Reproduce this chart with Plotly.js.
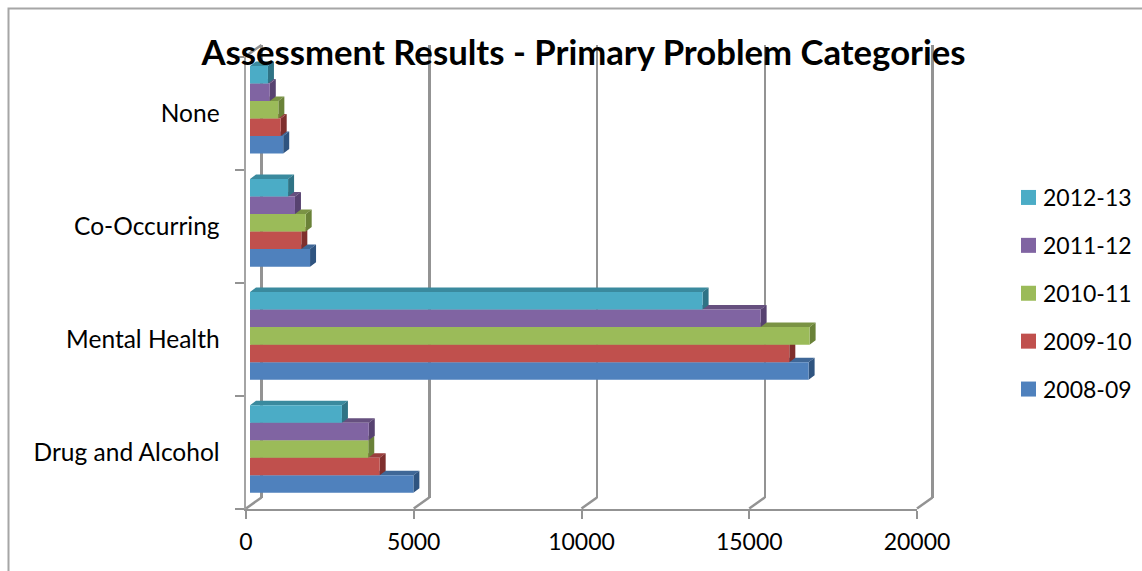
<!DOCTYPE html>
<html>
<head>
<meta charset="utf-8">
<script src="https://cdn.plot.ly/plotly-3.0.1.min.js"></script>
<style>html,body{margin:0;padding:0;background:#fff}#chart{width:1142px;height:571px}</style>
</head>
<body>
<div id="chart"></div>
<script>
var categories = ['Drug and Alcohol', 'Mental Health', 'Co-Occurring', 'None'];
var seriesNames = ['2008-09', '2009-10', '2010-11', '2011-12', '2012-13'];
var v0809 = [4870, 16650, 1790, 990];
var v0910 = [3865, 16075, 1530, 915];
var v1011 = [3525, 16680, 1660, 845];
var v1112 = [3540, 15220, 1340, 590];
var v1213 = [2740, 13490, 1135, 535];
var seriesValues = [v0809, v0910, v1011, v1112, v1213];
var frontColors = ['#4f81bd', '#c0504d', '#9bbb59', '#8064a2', '#4bacc6'];
var topColors = ['#3f6797', '#9a3f3d', '#7a9344', '#66507f', '#3a8a9e'];
var sideColors = ['#2f5480', '#7f2f2d', '#6a8238', '#574270', '#2f7385'];
var xTicks = [0, 5000, 10000, 15000, 20000];
var titleText = 'Assessment Results - Primary Problem Categories';

var W = 1142, H = 571;
var GRAY = '#939393';
var FONT = 'Lato, "Open Sans", sans-serif';
function xDom(a, b) { return [a / W, b / W]; }
function yDom(top, bottom) { return [1 - bottom / H, 1 - top / H]; }

var pxPerUnit = 671 / 20000;
var wallPxPerCat = (497.5 - 45) / 4;
var barPxPerCat = (505.5 - 53.2) / 4;
var barDx = 6 / pxPerUnit, barDy = 4.5 / barPxPerCat;
var wallDx = 15.5 / pxPerUnit, wallDy = 11 / wallPxPerCat;
var barSlot = 0.155;
var wallPad = 4 / pxPerUnit;

var traces = [];

// Keeps the back wall axes alive
traces.push({
  type: 'scatter', mode: 'none', x: xTicks, y: xTicks.map(function () { return 0; }),
  xaxis: 'x', yaxis: 'y', showlegend: false, hoverinfo: 'skip'
});

// Keeps the front frame axes (ticks and category labels) alive
traces.push({
  type: 'scatter', mode: 'none', x: categories.map(function () { return 0; }), y: categories,
  xaxis: 'x2', yaxis: 'y2', showlegend: false, hoverinfo: 'skip'
});

// Depth faces behind the bars
seriesValues.forEach(function (vals, j) {
  var tx = [], ty = [], sx = [], sy = [];
  vals.forEach(function (v, c) {
    var y0 = c - 2.5 * barSlot + j * barSlot, y1 = y0 + barSlot;
    tx.push(0, barDx, v + barDx, v, null);
    ty.push(y1, y1 + barDy, y1 + barDy, y1, null);
    sx.push(v, v + barDx, v + barDx, v, null);
    sy.push(y0, y0 + barDy, y1 + barDy, y1, null);
  });
  traces.push({
    type: 'scatter', mode: 'lines', x: tx, y: ty, xaxis: 'x3', yaxis: 'y3', fill: 'toself',
    fillcolor: topColors[j], line: { width: 0 }, showlegend: false, hoverinfo: 'skip'
  });
  traces.push({
    type: 'scatter', mode: 'lines', x: sx, y: sy, xaxis: 'x3', yaxis: 'y3', fill: 'toself',
    fillcolor: sideColors[j], line: { width: 0 }, showlegend: false, hoverinfo: 'skip'
  });
});

// Front faces of the bars
seriesValues.forEach(function (vals, j) {
  traces.push({
    type: 'bar', orientation: 'h', x: vals, y: categories, name: seriesNames[j],
    xaxis: 'x4', yaxis: 'y4', marker: { color: frontColors[j], line: { width: 0 } },
    showlegend: false
  });
});

// Diagonal floor and wall edges
var edgeX = [], edgeY = [];
xTicks.forEach(function (t) {
  edgeX.push(t - wallDx, t, null);
  edgeY.push(-wallDy, 0, null);
});
edgeX.push(-wallDx, 0, null);
edgeY.push(4 - wallDy, 4, null);
traces.push({
  type: 'scatter', mode: 'lines', x: edgeX, y: edgeY, xaxis: 'x5', yaxis: 'y5',
  line: { color: GRAY, width: 2.5 }, showlegend: false, hoverinfo: 'skip'
});

// Legend swatches, newest season first
seriesNames.slice().reverse().forEach(function (name) {
  var i = seriesNames.indexOf(name);
  traces.push({
    type: 'scatter', mode: 'markers', x: [null], y: [null], xaxis: 'x5', yaxis: 'y5',
    name: name, legendgroup: name,
    marker: { symbol: 'square', size: 15, color: frontColors[i] }, hoverinfo: 'skip'
  });
});

var hidden = { showgrid: false, zeroline: false, showline: false, showticklabels: false, ticks: '' };
function ax(extra) { return Object.assign({}, hidden, extra); }

var layout = {
  width: W, height: H,
  margin: { l: 0, r: 0, t: 0, b: 0, pad: 0, autoexpand: false },
  paper_bgcolor: '#fff', plot_bgcolor: 'rgba(0,0,0,0)',
  font: { family: FONT, color: '#000' },
  title: {
    text: '<b>' + titleText + '</b>',
    font: { family: FONT, size: 34.7, color: '#000' },
    x: 583.5 / W, xanchor: 'center', y: 1 - 53 / H, yanchor: 'middle', xref: 'paper', yref: 'paper'
  },
  barmode: 'group', bargap: 0.225, bargroupgap: 0,
  // back wall with gridlines (range padded so the end gridlines are drawn)
  xaxis: ax({
    domain: xDom(261.5 - 4, 932.5 + 4), range: [-wallPad, 20000 + wallPad], anchor: 'y',
    showgrid: true, gridcolor: GRAY, gridwidth: 2.5, tickmode: 'array', tickvals: xTicks
  }),
  yaxis: ax({ domain: yDom(45, 497.5), range: [0, 4], anchor: 'x' }),
  // front frame with ticks and labels
  xaxis2: {
    domain: xDom(246, 917), range: [0, 20000], anchor: 'y2', tickmode: 'array', tickvals: xTicks,
    ticktext: xTicks.map(String), ticks: 'outside', ticklen: 8, tickwidth: 2, tickcolor: GRAY,
    showline: true, linecolor: GRAY, linewidth: 2.5, showgrid: false, zeroline: false,
    tickfont: { family: FONT, size: 23, color: '#000' }, ticklabelstandoff: 3
  },
  yaxis2: {
    domain: yDom(57, 508.5), type: 'category', categoryorder: 'array', categoryarray: categories,
    range: [-0.5, 3.5], anchor: 'x2', tickson: 'boundaries', ticks: 'outside', ticklen: 9, tickwidth: 2,
    tickcolor: GRAY, showline: true, linecolor: '#a4a4a4', linewidth: 2.5, showgrid: false, zeroline: false,
    tickfont: { family: FONT, size: 24.5, color: '#000' }, ticklabelstandoff: 19
  },
  // depth faces
  xaxis3: ax({ domain: xDom(250, 921), range: [0, 20000], anchor: 'y3' }),
  yaxis3: ax({ domain: yDom(53.2, 505.5), range: [-0.5, 3.5], anchor: 'x3' }),
  // bar fronts
  xaxis4: ax({ domain: xDom(250, 921), range: [0, 20000], anchor: 'y4' }),
  yaxis4: ax({ domain: yDom(53.2, 505.5), type: 'category', categoryorder: 'array', categoryarray: categories, range: [-0.5, 3.5], anchor: 'x4' }),
  // wide axes for the diagonal edges, same scale as the back wall
  xaxis5: ax({
    domain: xDom(240, 940), range: [(240 - 261.5) / pxPerUnit, (940 - 261.5) / pxPerUnit], anchor: 'y5'
  }),
  yaxis5: ax({
    domain: yDom(35, 520), range: [(497.5 - 520) / wallPxPerCat, (497.5 - 35) / wallPxPerCat], anchor: 'x5'
  }),
  legend: {
    x: 1003 / W, xanchor: 'left', y: 1 - 176 / H, yanchor: 'top',
    traceorder: 'grouped', tracegroupgap: 15,
    font: { family: FONT, size: 23, color: '#000' }, bgcolor: 'rgba(0,0,0,0)', borderwidth: 0
  },
  shapes: [{
    type: 'rect', xref: 'paper', yref: 'paper', layer: 'below',
    x0: 8.5 / W, x1: 1.05, y0: -0.05, y1: 1 - 8.5 / H,
    line: { color: '#a6a6a6', width: 2 }, fillcolor: 'rgba(0,0,0,0)'
  }]
};

Plotly.newPlot('chart', traces, layout, { displayModeBar: false, staticPlot: true }).then(function () {
  document.querySelectorAll('.legend .legendsymbols').forEach(function (g) {
    g.setAttribute('transform', 'translate(5.5,0)');
  });
});
</script>
</body>
</html>
